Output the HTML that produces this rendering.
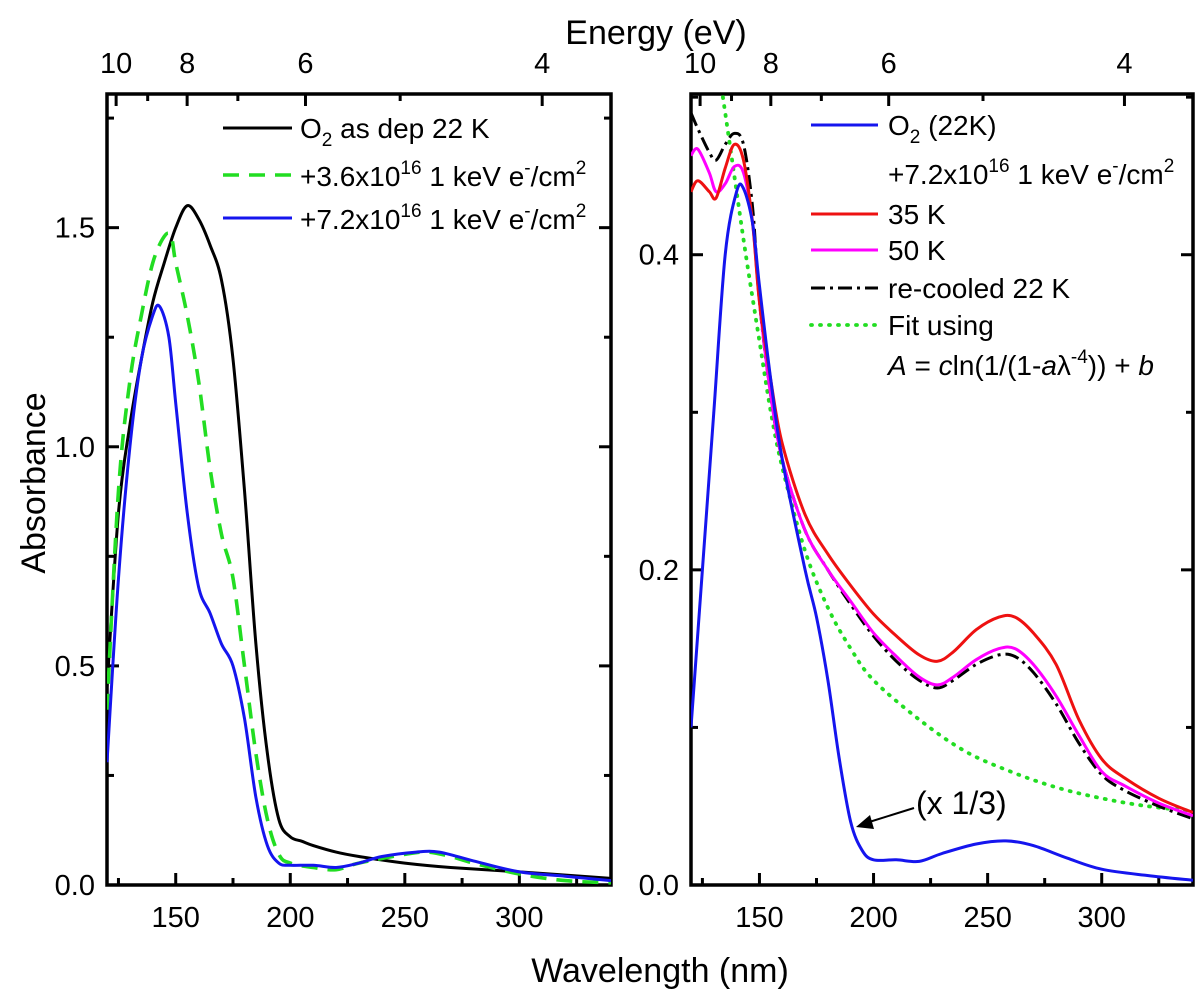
<!DOCTYPE html>
<html><head><meta charset="utf-8"><style>
body{margin:0;background:#fff;}
svg{display:block;font-family:"Liberation Sans",Arial,sans-serif;}
</style></head><body>
<svg id="chart" width="1200" height="997" viewBox="0 0 1200 997" xmlns="http://www.w3.org/2000/svg">
<g id="layer"></g>
</svg>
<script>
// ---- data ----
const wlLeftBlack = [120,125,130,135,140,145,150,155,160,165,170,175,180,185,190,195,200,205,210,220,230,250,270,300,340];
const absLeftBlack = [0.45,0.85,1.05,1.2,1.33,1.42,1.5,1.55,1.52,1.46,1.38,1.2,0.9,0.55,0.3,0.15,0.11,0.1,0.09,0.075,0.065,0.05,0.04,0.03,0.015];
const wlLeftGreen = [120,125,130,135,140,145,148,150,155,160,165,170,175,180,185,190,195,200,210,220,230,250,260,270,280,300,320,340];
const absLeftGreen = [0.4,0.9,1.15,1.3,1.42,1.48,1.48,1.42,1.3,1.15,0.95,0.8,0.7,0.5,0.3,0.15,0.07,0.05,0.04,0.035,0.05,0.07,0.075,0.065,0.05,0.025,0.01,0.005];
const wlLeftBlue = [120,125,130,135,140,143,147,150,155,160,165,170,175,180,185,190,195,200,210,220,230,240,255,265,280,300,320,340];
const absLeftBlue = [0.28,0.7,1.0,1.2,1.3,1.32,1.25,1.1,0.85,0.68,0.62,0.55,0.5,0.38,0.2,0.09,0.05,0.045,0.045,0.04,0.05,0.065,0.075,0.075,0.055,0.03,0.02,0.01];

const wlR = [120,123,128,131,135,139,143,147,150,155,160,170,180,190,200,210,220,228,235,245,255,262,270,280,290,300,310,325,340];
const absRed = [0.44,0.447,0.44,0.436,0.455,0.47,0.46,0.42,0.37,0.32,0.28,0.235,0.21,0.19,0.172,0.158,0.146,0.142,0.148,0.162,0.17,0.17,0.16,0.14,0.105,0.08,0.068,0.055,0.046];
const absMagenta = [0.463,0.467,0.452,0.44,0.445,0.456,0.452,0.42,0.37,0.31,0.27,0.225,0.2,0.18,0.16,0.145,0.132,0.127,0.132,0.143,0.15,0.15,0.14,0.12,0.095,0.072,0.063,0.052,0.044];
const absRecooled = [0.49,0.48,0.465,0.46,0.47,0.477,0.47,0.43,0.37,0.31,0.27,0.225,0.2,0.178,0.158,0.142,0.13,0.125,0.13,0.14,0.146,0.145,0.135,0.115,0.09,0.07,0.06,0.05,0.042];
const wlO2 = [120,125,130,135,140,143,147,150,155,160,170,175,180,185,190,195,200,210,220,230,245,258,270,285,300,320,340];
const absO2 = [0.1,0.2,0.3,0.4,0.44,0.442,0.42,0.38,0.32,0.27,0.2,0.17,0.13,0.08,0.04,0.022,0.016,0.016,0.015,0.02,0.026,0.028,0.025,0.017,0.01,0.006,0.003];
const wlFit = [134,137,140,144,150,155,160,170,180,190,200,220,240,260,280,300,320,340];
const absFit = [0.5,0.47,0.44,0.4,0.345,0.3,0.265,0.212,0.176,0.15,0.13,0.105,0.085,0.072,0.062,0.055,0.05,0.047];

const xTicksMajor = [150,200,250,300];
const xTicksMinor = [125,175,225,275,325];
const energyMajor = [10,8,6,4];
const energyMinor = [9,7,5];
const yTicksLeft = [0,0.5,1.0,1.5];
const yLabelsLeft = ["0.0","0.5","1.0","1.5"];
const yMinorLeft = [0.25,0.75,1.25,1.75];
const yTicksRight = [0,0.2,0.4];
const yLabelsRight = ["0.0","0.2","0.4"];
const yMinorRight = [0.1,0.3,0.5];

const NS="http://www.w3.org/2000/svg";
const layer=document.getElementById('layer');
function mk(tag,attrs,parent){const e=document.createElementNS(NS,tag);for(const k in attrs)e.setAttribute(k,attrs[k]);(parent||layer).appendChild(e);return e;}

const X0=120,X1=340;
const panels=[
 {l:107,r:611,t:94,b:885,ymax:1.805,name:'left'},
 {l:691,r:1193,t:94,b:885,ymax:0.502,name:'right'}
];
function sx(p,v){return p.l+(v-X0)/(X1-X0)*(p.r-p.l);}
function sy(p,v){return p.b-v/p.ymax*(p.b-p.t);}

function drawPanel(p,yT,yL,yM){
  const g=mk('g',{});
  
  
  xTicksMajor.forEach(v=>{const x=sx(p,v);
    mk('line',{x1:x,x2:x,y1:p.b,y2:p.b-12,stroke:'#000','stroke-width':3},g);
    const tx=mk('text',{x:x,y:p.b+42,'font-size':29,'text-anchor':'middle'},g);tx.textContent=v;
    
    
  });
  xTicksMinor.forEach(v=>{const x=sx(p,v);mk('line',{x1:x,x2:x,y1:p.b,y2:p.b-7,stroke:'#000','stroke-width':3},g);});
  energyMajor.forEach(e=>{const x=sx(p,1239.84/e);
    mk('line',{x1:x,x2:x,y1:p.t,y2:p.t+12,stroke:'#000','stroke-width':3},g);
    const tx=mk('text',{x:x,y:p.t-21,'font-size':29,'text-anchor':'middle'},g);tx.textContent=e;
    
    
  });
  energyMinor.forEach(e=>{const x=sx(p,1239.84/e);mk('line',{x1:x,x2:x,y1:p.t,y2:p.t+7,stroke:'#000','stroke-width':3},g);});
  yT.forEach((v,i)=>{const y=sy(p,v);
    mk('line',{x1:p.l,x2:p.l+12,y1:y,y2:y,stroke:'#000','stroke-width':3},g);
    mk('line',{x1:p.r,x2:p.r-12,y1:y,y2:y,stroke:'#000','stroke-width':3},g);
    const tx=mk('text',{x:p.l-12,y:y+10,'font-size':29,'text-anchor':'end'},g);tx.textContent=yL[i];
    
    
  });
  yM.forEach(v=>{const y=sy(p,v);
    mk('line',{x1:p.l,x2:p.l+7,y1:y,y2:y,stroke:'#000','stroke-width':3},g);
    mk('line',{x1:p.r,x2:p.r-7,y1:y,y2:y,stroke:'#000','stroke-width':3},g);
  });
  const f=mk('rect',{x:p.l,y:p.t,width:p.r-p.l,height:p.b-p.t,fill:'none',stroke:'#000','stroke-width':3.5},g);
  
  
  const cp=mk('clipPath',{id:'clip-'+p.name},g);
  mk('rect',{x:p.l,y:p.t,width:p.r-p.l,height:p.b-p.t},cp);
}
function smoothPath(pts){
  let d='M'+pts[0][0].toFixed(1)+','+pts[0][1].toFixed(1);
  for(let i=0;i<pts.length-1;i++){
    const p0=pts[i-1]||pts[i],p1=pts[i],p2=pts[i+1],p3=pts[i+2]||p2;
    const c1=[p1[0]+(p2[0]-p0[0])/6,p1[1]+(p2[1]-p0[1])/6];
    const c2=[p2[0]-(p3[0]-p1[0])/6,p2[1]-(p3[1]-p1[1])/6];
    d+=' C'+c1[0].toFixed(1)+','+c1[1].toFixed(1)+' '+c2[0].toFixed(1)+','+c2[1].toFixed(1)+' '+p2[0].toFixed(1)+','+p2[1].toFixed(1);
  }
  return d;
}
function series(p,xs,ys,color,dash,name,w){
  const pts=xs.map((v,i)=>[sx(p,v),sy(p,ys[i])]);
  const a={d:smoothPath(pts),fill:'none',stroke:color,'stroke-width':w||3,'stroke-linejoin':'round','clip-path':'url(#clip-'+p.name+')'};
  if(dash){a['stroke-dasharray']=dash;}
  if(dash==='1 8'){a['stroke-linecap']='round';a['stroke-width']=3.8;}
  const e=mk('path',a);
  
  
}
const L=panels[0],R=panels[1];
drawPanel(L,yTicksLeft,yLabelsLeft,yMinorLeft);
drawPanel(R,yTicksRight,yLabelsRight,yMinorRight);

series(L,wlLeftBlack,absLeftBlack,'#000',null,'o2-as-dep-line');
series(L,wlLeftGreen,absLeftGreen,'#22dd22','16 10','dose-3.6e16-line',3.6);
series(L,wlLeftBlue,absLeftBlue,'#1515ee',null,'dose-7.2e16-line');

series(R,wlFit,absFit,'#22dd22','1 8','fit-line');
series(R,wlR,absRecooled,'#000','14 5 3 5','recooled-22k-line');
series(R,wlR,absMagenta,'#ff00ff',null,'50k-line');
series(R,wlR,absRed,'#ee1111',null,'35k-line');
series(R,wlO2,absO2,'#1515ee',null,'o2-22k-line');
</script>
<svg style="position:absolute;left:0;top:0" width="1200" height="997" xmlns="http://www.w3.org/2000/svg" font-family="Liberation Sans, Arial, sans-serif">
<text x="656" y="44" font-size="34" text-anchor="middle">Energy (eV)</text>
<text x="660" y="982" font-size="34" text-anchor="middle">Wavelength (nm)</text>
<text transform="translate(45,483) rotate(-90)" font-size="34" text-anchor="middle">Absorbance</text>
<g font-size="28">
 <line x1="223" x2="292" y1="128" y2="128" stroke="#000" stroke-width="3"/>
 <text x="300" y="138">O<tspan font-size="19" dy="8">2</tspan><tspan dy="-8"> as dep 22 K</tspan></text>
 <line x1="223" x2="292" y1="175" y2="175" stroke="#22dd22" stroke-width="3.6" stroke-dasharray="16 10"/>
 <text x="300" y="186">+3.6x10<tspan font-size="19" dy="-12">16</tspan><tspan dy="12"> 1 keV e</tspan><tspan font-size="19" dy="-12">-</tspan><tspan dy="12">/cm</tspan><tspan font-size="19" dy="-12">2</tspan></text>
 <line x1="223" x2="292" y1="218" y2="218" stroke="#1515ee" stroke-width="3"/>
 <text x="300" y="229">+7.2x10<tspan font-size="19" dy="-12">16</tspan><tspan dy="12"> 1 keV e</tspan><tspan font-size="19" dy="-12">-</tspan><tspan dy="12">/cm</tspan><tspan font-size="19" dy="-12">2</tspan></text>
</g>
<g font-size="28">
 <line x1="811" x2="878" y1="125" y2="125" stroke="#1515ee" stroke-width="3"/>
 <text x="888" y="135">O<tspan font-size="19" dy="8">2</tspan><tspan dy="-8"> (22K)</tspan></text>
 <text x="888" y="184">+7.2x10<tspan font-size="19" dy="-12">16</tspan><tspan dy="12"> 1 keV e</tspan><tspan font-size="19" dy="-12">-</tspan><tspan dy="12">/cm</tspan><tspan font-size="19" dy="-12">2</tspan></text>
 <line x1="811" x2="878" y1="214" y2="214" stroke="#ee1111" stroke-width="3"/>
 <text x="888" y="224">35 K</text>
 <line x1="811" x2="878" y1="250" y2="250" stroke="#ff00ff" stroke-width="3"/>
 <text x="888" y="260">50 K</text>
 <line x1="811" x2="878" y1="288" y2="288" stroke="#000" stroke-width="3" stroke-dasharray="14 5 3 5"/>
 <text x="888" y="298">re-cooled 22 K</text>
 <line x1="811" x2="878" y1="325" y2="325" stroke="#22dd22" stroke-width="3.8" stroke-dasharray="1 8" stroke-linecap="round"/>
 <text x="888" y="335">Fit using</text>
 <text x="888" y="375"><tspan font-style="italic">A</tspan> = <tspan font-style="italic">c</tspan>ln(1/(1-<tspan font-style="italic">a</tspan>λ<tspan font-size="19" dy="-12">-4</tspan><tspan dy="12">)) + </tspan><tspan font-style="italic">b</tspan></text>
</g>
<g>
 <line x1="914" y1="808" x2="866" y2="823" stroke="#000" stroke-width="2"/>
 <polygon points="856,827 870,815 874,829" fill="#000"/>
 <text x="916" y="814" font-size="32">(x 1/3)</text>
</g>
</svg>
</body></html>
